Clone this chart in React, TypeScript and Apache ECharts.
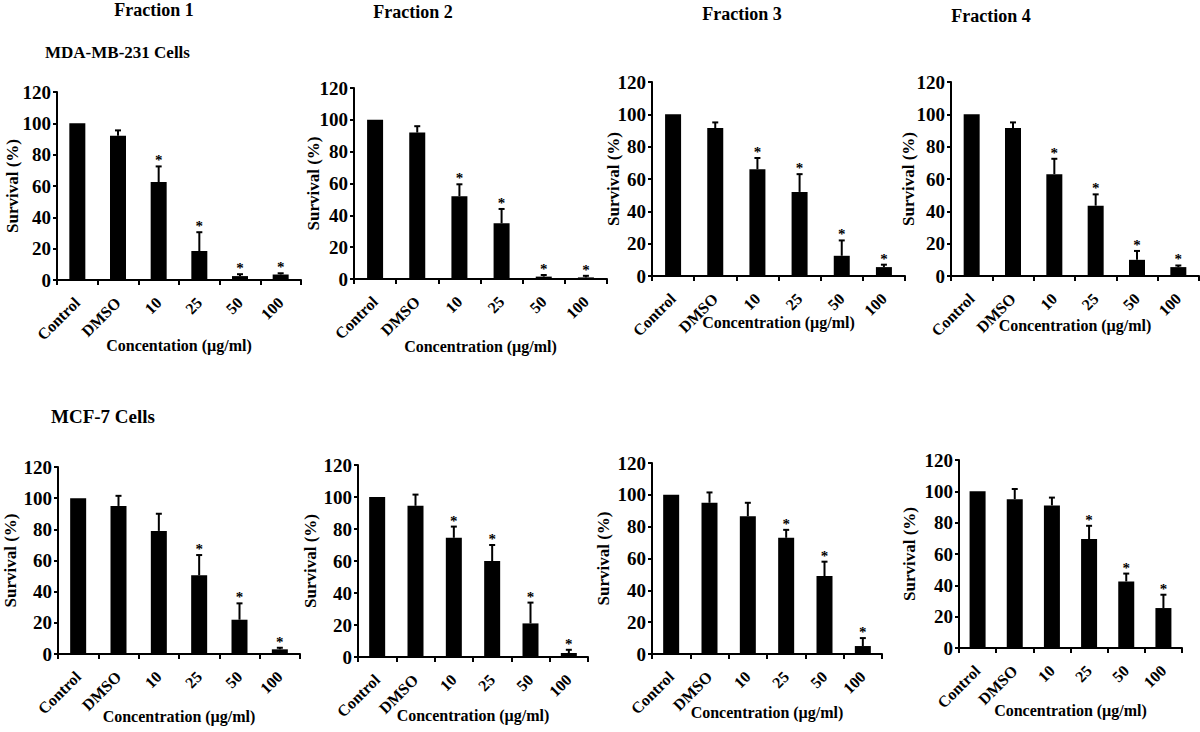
import React, { useEffect, useRef } from "react";
import * as echarts from "echarts";

const FONT = '"Liberation Serif", "Times New Roman", serif';

const categories = ["Control", "DMSO", "10", "25", "50", "100"];
const yMin = 0;
const yMax = 120;
const yInterval = 20;

const fractionTitles = ["Fraction 1", "Fraction 2", "Fraction 3", "Fraction 4"];
const rowTitles = ["MDA-MB-231 Cells", "MCF-7 Cells"];
const yAxisName = "Survival (%)";
const xNameTypo = "Concentation (µg/ml)";
const xName = "Concentration (µg/ml)";

// MDA-MB-231 cells
const mdaF1Mean = [100, 92, 62.5, 18.5, 2.5, 3.5];
const mdaF1Err = [0, 3.5, 10, 12, 1.2, 0.8];
const mdaF1Sig = [0, 0, 1, 1, 1, 1];

const mdaF2Mean = [100, 92, 52, 35, 1.5, 1];
const mdaF2Err = [0, 4, 7.5, 9, 1, 1];
const mdaF2Sig = [0, 0, 1, 1, 1, 1];

const mdaF3Mean = [100, 91.5, 66, 52, 12.5, 5.5];
const mdaF3Err = [0, 3.5, 7, 11, 9.5, 1.5];
const mdaF3Sig = [0, 0, 1, 1, 1, 1];

const mdaF4Mean = [100, 91.5, 63, 43.5, 10, 5.5];
const mdaF4Err = [0, 3.5, 9.5, 7, 5.5, 1];
const mdaF4Sig = [0, 0, 1, 1, 1, 1];

// MCF-7 cells
const mcfF1Mean = [100, 95, 79, 50.5, 22, 3];
const mcfF1Err = [0, 6.5, 11, 13, 10.5, 1];
const mcfF1Sig = [0, 0, 0, 1, 1, 1];

const mcfF2Mean = [100, 94.5, 74.5, 60, 21, 2.5];
const mcfF2Err = [0, 7, 7, 10, 13, 2];
const mcfF2Sig = [0, 0, 1, 1, 1, 1];

const mcfF3Mean = [100, 95, 86.5, 73, 49, 5];
const mcfF3Err = [0, 6.5, 8.5, 5, 9, 5];
const mcfF3Sig = [0, 0, 0, 1, 1, 1];

const mcfF4Mean = [100, 95, 91, 69.5, 42.5, 25.5];
const mcfF4Err = [0, 6.5, 5, 8.5, 5, 8.5];
const mcfF4Sig = [0, 0, 0, 1, 1, 1];

const panels = [
  { mean: mdaF1Mean, err: mdaF1Err, sig: mdaF1Sig, xName: xNameTypo },
  { mean: mdaF2Mean, err: mdaF2Err, sig: mdaF2Sig, xName: xName },
  { mean: mdaF3Mean, err: mdaF3Err, sig: mdaF3Sig, xName: xName },
  { mean: mdaF4Mean, err: mdaF4Err, sig: mdaF4Sig, xName: xName },
  { mean: mcfF1Mean, err: mcfF1Err, sig: mcfF1Sig, xName: xName },
  { mean: mcfF2Mean, err: mcfF2Err, sig: mcfF2Sig, xName: xName },
  { mean: mcfF3Mean, err: mcfF3Err, sig: mcfF3Sig, xName: xName },
  { mean: mcfF4Mean, err: mcfF4Err, sig: mcfF4Sig, xName: xName },
];

// layout (pixels)
const layouts = [
  { left: 57, top: 92, width: 244, height: 188, nameGap: 57, yNameGap: 36 },
  { left: 354, top: 88, width: 253, height: 191, nameGap: 59, yNameGap: 32 },
  { left: 652, top: 82, width: 253, height: 194, nameGap: 38, yNameGap: 30 },
  { left: 951, top: 82, width: 248, height: 194, nameGap: 41, yNameGap: 34 },
  { left: 58, top: 467, width: 242, height: 187, nameGap: 54, yNameGap: 39 },
  { left: 358, top: 465, width: 230, height: 192, nameGap: 50, yNameGap: 39 },
  { left: 652, top: 463, width: 230, height: 191, nameGap: 50, yNameGap: 40 },
  { left: 959, top: 460, width: 223, height: 188, nameGap: 54, yNameGap: 41 },
];

const titlePos = [
  { x: 154, y: 10 },
  { x: 413, y: 12 },
  { x: 742, y: 14 },
  { x: 991, y: 16 },
];

const bold = { color: "#000", fontFamily: FONT, fontWeight: "bold" as const };

function renderErr(_params: any, api: any) {
  const i = api.value(0);
  const m = api.value(1);
  const e = api.value(2);
  const s = api.value(3);
  const base = api.coord([i, m]);
  const top = api.coord([i, m + e]);
  const children: any[] = [];
  if (e > 0) {
    children.push({
      type: "line",
      shape: { x1: base[0], y1: base[1], x2: top[0], y2: top[1] },
      style: { stroke: "#000", lineWidth: 2 },
    });
    children.push({
      type: "line",
      shape: { x1: top[0] - 3, y1: top[1], x2: top[0] + 3, y2: top[1] },
      style: { stroke: "#000", lineWidth: 2 },
    });
  }
  if (s) {
    children.push({
      type: "text",
      x: top[0],
      y: top[1] - 6,
      style: {
        text: "*",
        align: "center",
        verticalAlign: "middle",
        font: `bold 15px ${FONT}`,
        fill: "#000",
      },
    });
  }
  return { type: "group", children };
}

export default function App() {
  const ref = useRef<HTMLDivElement>(null);
  useEffect(() => {
    document.body.style.margin = "0";
    const chart = echarts.init(ref.current as HTMLDivElement, null, { renderer: "svg" });
    const grids: any[] = [];
    const xAxes: any[] = [];
    const yAxes: any[] = [];
    const series: any[] = [];
    panels.forEach((p, i) => {
      const L = layouts[i];
      grids.push({
        left: L.left,
        top: L.top,
        width: L.width,
        height: L.height,
        containLabel: false,
        outerBoundsMode: "none",
      });
      xAxes.push({
        type: "category",
        gridIndex: i,
        data: categories,
        boundaryGap: true,
        axisLine: { show: true, lineStyle: { color: "#000", width: 2 } },
        axisTick: { show: true, length: 5, interval: 0, alignWithLabel: false, lineStyle: { color: "#000", width: 2 } },
        axisLabel: { interval: 0, rotate: 45, margin: 20, fontSize: 16, ...bold },
        splitLine: { show: false },
        name: p.xName,
        nameLocation: "middle",
        nameGap: L.nameGap,
        nameMoveOverlap: false,
        nameTextStyle: { fontSize: 16, ...bold },
      });
      yAxes.push({
        type: "value",
        gridIndex: i,
        min: yMin,
        max: yMax,
        interval: yInterval,
        splitLine: { show: false },
        axisLine: { show: true, lineStyle: { color: "#000", width: 2 } },
        axisTick: { show: true, length: 4, lineStyle: { color: "#000", width: 2 } },
        axisLabel: { margin: 6, fontSize: 19, ...bold },
        name: yAxisName,
        nameLocation: "middle",
        nameRotate: 90,
        nameGap: L.yNameGap,
        nameMoveOverlap: false,
        nameTextStyle: { fontSize: 17, ...bold },
      });
      series.push({
        type: "bar",
        xAxisIndex: i,
        yAxisIndex: i,
        data: p.mean,
        barWidth: 16,
        itemStyle: { color: "#000" },
        silent: true,
      });
      series.push({
        type: "custom",
        xAxisIndex: i,
        yAxisIndex: i,
        data: p.mean.map((m, j) => [j, m, p.err[j], p.sig[j]]),
        encode: { x: 0, y: 1 },
        renderItem: renderErr,
        itemStyle: { color: "#000" },
        z: 5,
        silent: true,
      });
    });

    const graphic: any[] = fractionTitles.map((t, k) => ({
      type: "text",
      x: titlePos[k].x,
      y: titlePos[k].y,
      style: {
        text: t,
        font: `bold 18px ${FONT}`,
        align: "center",
        verticalAlign: "middle",
        fill: "#000",
      },
    }));
    graphic.push({
      type: "text",
      x: 45,
      y: 52,
      style: { text: rowTitles[0], font: `bold 17px ${FONT}`, align: "left", verticalAlign: "middle", fill: "#000" },
    });
    graphic.push({
      type: "text",
      x: 51,
      y: 416,
      style: { text: rowTitles[1], font: `bold 19px ${FONT}`, align: "left", verticalAlign: "middle", fill: "#000" },
    });

    chart.setOption({
      animation: false,
      backgroundColor: "#fff",
      grid: grids,
      xAxis: xAxes,
      yAxis: yAxes,
      series,
      graphic,
    });
    return () => chart.dispose();
  }, []);
  return <div ref={ref} style={{ position: "fixed", left: 0, top: 0, width: 1200, height: 732 }} />;
}
